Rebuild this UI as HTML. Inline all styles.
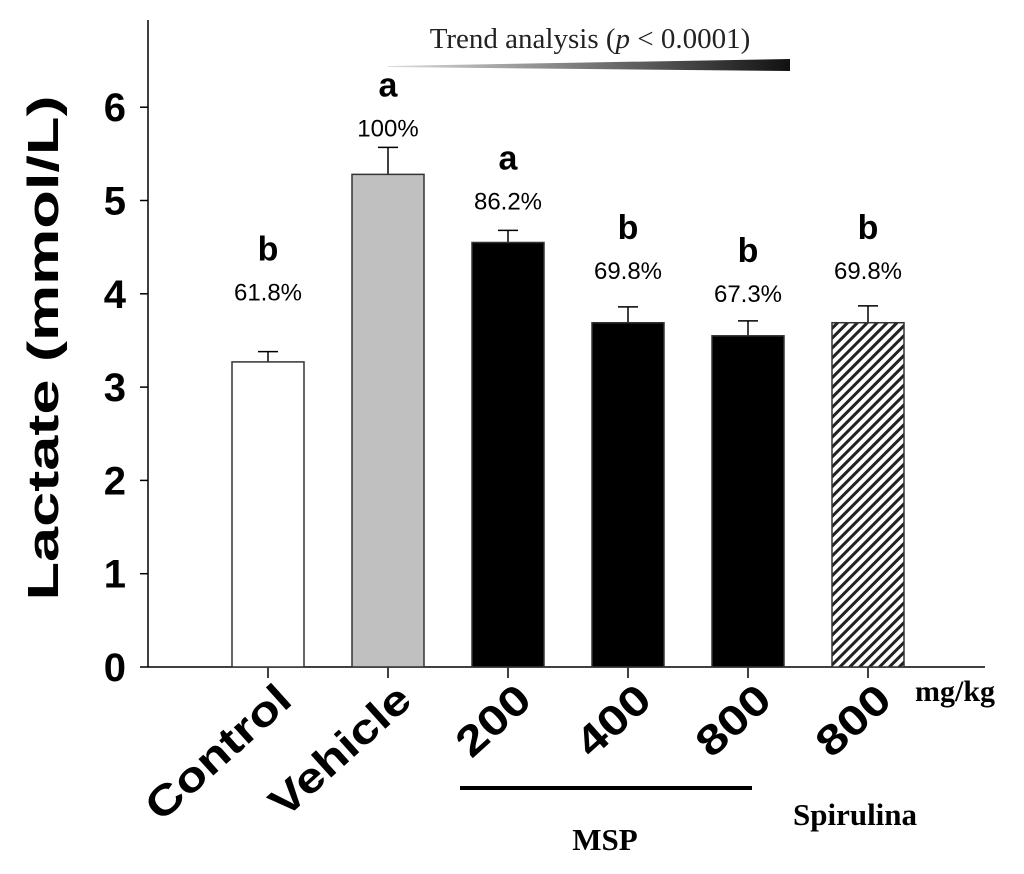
<!DOCTYPE html>
<html><head><meta charset="utf-8"><style>
html,body{margin:0;padding:0;background:#fff;width:1024px;height:874px;overflow:hidden}
svg text{font-family:"Liberation Sans",Arial,sans-serif}
.serif{font-family:"Liberation Serif","Times New Roman",serif}
</style></head><body>
<svg id="chart" width="1024" height="874" viewBox="0 0 1024 874" xmlns="http://www.w3.org/2000/svg">
<defs>
<pattern id="hatch" patternUnits="userSpaceOnUse" width="7" height="7" patternTransform="rotate(45)">
<rect width="7" height="7" fill="#fff"/><rect x="0" y="0" width="3" height="7" fill="#222"/>
</pattern>
<linearGradient id="wedgeGrad" x1="0" x2="1" y1="0" y2="0">
<stop offset="0" stop-color="#ddd"/><stop offset="1" stop-color="#111"/>
</linearGradient>
</defs>
<g id="axes"></g>
<g id="bars"></g>
<g id="labels"></g>
<g>
<text class="serif" x="590" y="48" font-size="29" text-anchor="middle" fill="#222">Trend analysis (<tspan font-style="italic">p</tspan> &lt; 0.0001)</text>
<polygon points="388,66 790,59 790,71 388,67" fill="url(#wedgeGrad)"/>
</g>
<text x="0" y="0" transform="translate(58,348) rotate(-90)" font-size="44" font-weight="bold" text-anchor="middle" textLength="505" lengthAdjust="spacingAndGlyphs">Lactate (mmol/L)</text>
<text class="serif" x="915" y="701" font-size="30" font-weight="bold">mg/kg</text>
<line x1="460" y1="788" x2="752" y2="788" stroke="#000" stroke-width="4"/>
<text class="serif" x="605" y="850" font-size="31" font-weight="bold" text-anchor="middle">MSP</text>
<text class="serif" x="855" y="825" font-size="31" font-weight="bold" text-anchor="middle">Spirulina</text>
</svg>
<script>
const categories = ["Control","Vehicle","200","400","800","800"];
const means = [3.27, 5.28, 4.55, 3.69, 3.55, 3.69];
const errors = [0.11, 0.29, 0.13, 0.17, 0.16, 0.18];
const letters = ["b","a","a","b","b","b"];
const percents = ["61.8%","100%","86.2%","69.8%","67.3%","69.8%"];
const yTicks = [0,1,2,3,4,5,6];
const fills = ["#fff","#c0c0c0","#000","#000","#000","url(#hatch)"];
const labelGaps = [60,20,30,37,28,36];
const NS="http://www.w3.org/2000/svg";
const y0=667, pxPer=93.3, xLeft=148, xRight=985, xStart=268, step=120, bw=72;
const yS=v=>y0-v*pxPer;
const xS=i=>xStart+i*step;
function mk(tag,attrs,parent){const e=document.createElementNS(NS,tag);for(const k in attrs)e.setAttribute(k,attrs[k]);parent.appendChild(e);return e;}
const axes=document.getElementById('axes'),bars=document.getElementById('bars'),labels=document.getElementById('labels');
const ya=mk('line',{x1:xLeft,y1:20,x2:xLeft,y2:y0,stroke:'#000','stroke-width':1.5},axes);


const xa=mk('line',{x1:xLeft,y1:y0,x2:xRight,y2:y0,stroke:'#000','stroke-width':1.5},axes);


yTicks.forEach(t=>{
  const tk=mk('line',{x1:xLeft-8,y1:yS(t),x2:xLeft,y2:yS(t),stroke:'#000','stroke-width':1.5},axes);
  
  
  const tl=mk('text',{x:xLeft-22,y:yS(t)+14,'font-size':40,'font-weight':'bold','text-anchor':'end'},axes);
  tl.textContent=t;
  
  
});
categories.forEach((c,i)=>{
  const cx=xS(i), top=yS(means[i]), et=yS(means[i]+errors[i]);
  const eb=mk('line',{x1:cx,y1:top,x2:cx,y2:et,stroke:'#000','stroke-width':1.5},bars);
  
  
  const ec=mk('line',{x1:cx-10,y1:et,x2:cx+10,y2:et,stroke:'#000','stroke-width':1.5},bars);
  
  
  const r=mk('rect',{x:cx-bw/2,y:top,width:bw,height:y0-top,fill:fills[i],stroke:'#333','stroke-width':1.5},bars);
  
  
  const xt=mk('line',{x1:cx,y1:y0,x2:cx,y2:y0+11,stroke:'#000','stroke-width':1.5},axes);
  
  
  const pc=et-labelGaps[i];
  const pl=mk('text',{x:cx,y:pc+9,'font-size':24,'text-anchor':'middle'},labels);
  pl.textContent=percents[i];
  
  
  const ll=mk('text',{x:cx,y:pc-31,'font-size':34,'font-weight':'bold','text-anchor':'middle'},labels);
  ll.textContent=letters[i];
  
  
  const xl=mk('text',{x:0,y:0,'font-size':42,'font-weight':'bold','text-anchor':'end',transform:`translate(${cx+26},${y0+36}) rotate(-42)`},labels);
  xl.textContent=c;
  
  
  const len=xl.getComputedTextLength();
  if(len>0){xl.setAttribute('textLength',(len*1.2).toFixed(1));xl.setAttribute('lengthAdjust','spacingAndGlyphs');}
});
</script>
</body></html>
